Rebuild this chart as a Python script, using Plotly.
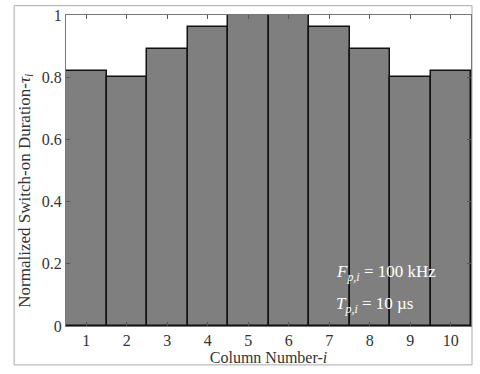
import plotly.graph_objects as go

columns = [1, 2, 3, 4, 5, 6, 7, 8, 9, 10]
tau = [0.82, 0.80, 0.89, 0.96, 1.0, 1.0, 0.96, 0.89, 0.80, 0.82]
y_ticks = [0, 0.2, 0.4, 0.6, 0.8, 1]
y_tick_text = ["0", "0.2", "0.4", "0.6", "0.8", "1"]

FONT = "Liberation Serif, Times New Roman, serif"
TXT = "#333333"

fig = go.Figure()
fig.add_trace(go.Bar(
    x=columns, y=tau, width=1,
    marker=dict(color="#7f7f7f", line=dict(color="#111111", width=1.5)),
    showlegend=False,
))

fig.update_layout(
    width=480, height=374,
    margin=dict(l=66, r=9, t=7, b=48),
    paper_bgcolor="white", plot_bgcolor="white",
    font=dict(family=FONT, size=16, color=TXT),
    bargap=0,
    xaxis=dict(
        range=[0.5, 10.5], tickvals=columns, ticktext=[str(c) for c in columns],
        ticks="inside", ticklen=4, tickcolor="#555555",
        showline=True, linecolor="#777777", linewidth=1, mirror="ticks",
        showgrid=False, zeroline=False, ticklabeloverflow="allow",
        tickfont=dict(size=16, family=FONT, color=TXT),
        title=dict(text="Column Number-<i>i</i>", font=dict(size=16, family=FONT, color=TXT), standoff=2),
    ),
    yaxis=dict(
        range=[0, 1], tickvals=y_ticks, ticktext=y_tick_text,
        ticks="inside", ticklen=4, tickcolor="#555555",
        showline=True, linecolor="#777777", linewidth=1, mirror="ticks",
        showgrid=False, zeroline=False, ticklabeloverflow="allow",
        tickfont=dict(size=16, family=FONT, color=TXT),
    ),
)

fig.add_annotation(
    xref="paper", yref="paper", x=-0.098, y=0.436, xanchor="center", yanchor="middle",
    text="Normalized Switch-on Duration-<i>τ<sub>i</sub></i>", textangle=-90, showarrow=False,
    font=dict(family=FONT, size=17, color=TXT),
)

fig.add_annotation(
    xref="x", yref="y", x=7.12, y=0.17, xanchor="left", yanchor="middle",
    text="<i>F<sub>p,i</sub></i> = 100 kHz", showarrow=False,
    font=dict(family=FONT, size=17, color="white"),
)
fig.add_annotation(
    xref="x", yref="y", x=7.12, y=0.068, xanchor="left", yanchor="middle",
    text="<i>T<sub>p,i</sub></i> = 10 µs", showarrow=False,
    font=dict(family=FONT, size=17, color="white"),
)

fig.add_shape(
    type="rect", xref="paper", yref="paper",
    x0=-0.128, x1=1.0025, y0=-0.125, y1=1.03,
    line=dict(color="#aaaaaa", width=1), fillcolor="rgba(0,0,0,0)", layer="below",
)

fig.write_html("out.html")
